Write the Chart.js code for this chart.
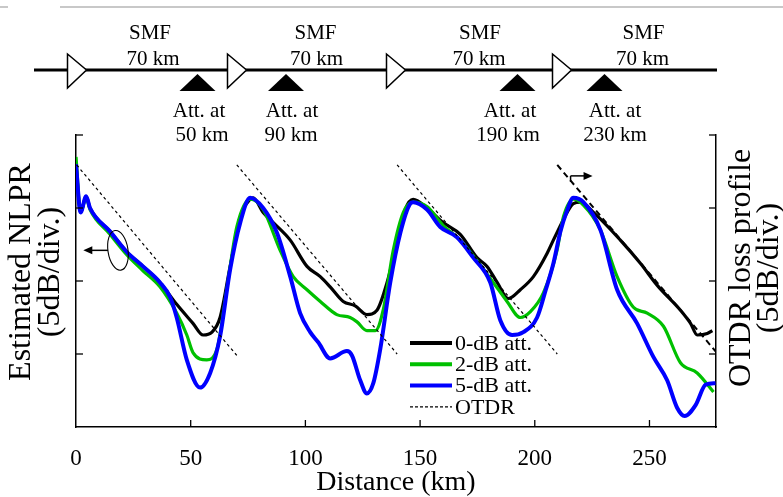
<!DOCTYPE html>
<html>
<head>
    <title>Estimated NLPR vs OTDR</title>
    <script src="https://cdn.jsdelivr.net/npm/chart.js"></script>
    <style>
        html, body { margin: 0; padding: 0; background: #fff; }
        #wrap { width: 783px; height: 497px; position: relative; }
    </style>
</head>
<body>
<div id="wrap"><canvas id="nlprChart" width="783" height="497"></canvas></div>
<script>
    // x ticks / y divisions
    const xTicks = [50, 100, 150, 200, 250];
    const yDivs = [5, 10, 15];

    // 0-dB att. (black)
    const att0Km = [0, 2.0, 4.4, 6.1, 14.8, 22.1, 29.2, 36.6, 43.9, 51.0, 55.4, 59.3, 62.8, 67.2, 71.6, 75.9, 77.2, 81.6, 86.0, 93.4, 100.7, 106.5, 110.8, 116.5, 121.7, 126.8, 131.2, 135.6, 139.9, 143.5, 147.0, 153.0, 160.1, 167.5, 174.8, 179.2, 183.6, 188.5, 193.7, 199.4, 205.4, 208.1, 211.2, 214.1, 216.8, 219.9, 225.6, 237.3, 246.1, 253.4, 263.5, 267.9, 270.8, 275.2, 277.4];
    const att0Val = [18.0, 14.7, 15.8, 15.0, 13.4, 12.0, 11.0, 9.9, 8.4, 7.1, 6.3, 6.5, 7.5, 11.0, 14.4, 15.6, 15.7, 14.7, 14.0, 12.8, 11.0, 10.3, 9.6, 8.6, 8.3, 7.7, 8.0, 9.9, 12.6, 14.9, 15.6, 15.0, 14.0, 13.2, 11.6, 11.0, 9.9, 8.8, 9.4, 10.3, 11.9, 12.8, 13.8, 14.7, 15.3, 15.4, 14.7, 12.8, 11.2, 9.7, 8.0, 7.1, 6.3, 6.4, 6.6];

    // 2-dB att. (green)
    const att2Km = [0, 2.0, 4.4, 6.1, 14.8, 22.1, 29.2, 36.6, 43.9, 48.3, 51.0, 57.0, 61.4, 65.7, 70.1, 75.9, 81.6, 89.0, 94.7, 100.7, 106.5, 113.7, 119.5, 122.5, 126.8, 130.5, 133.9, 138.3, 142.7, 147.0, 153.0, 160.1, 167.5, 174.8, 181.9, 187.9, 193.7, 198.1, 203.8, 209.7, 212.5, 216.8, 221.2, 228.6, 235.9, 243.0, 249.0, 256.1, 263.5, 270.8, 277.9];
    const att2Val = [18.5, 14.7, 15.7, 14.9, 13.2, 11.8, 10.7, 9.6, 7.8, 6.3, 5.1, 4.6, 5.3, 9.4, 13.7, 15.6, 14.9, 12.1, 10.3, 9.4, 8.6, 7.7, 7.5, 7.2, 6.6, 6.6, 8.0, 12.1, 14.7, 15.4, 15.1, 13.8, 12.8, 11.4, 9.9, 8.6, 7.5, 7.9, 9.2, 12.1, 14.4, 15.6, 15.2, 13.5, 10.3, 8.2, 7.8, 6.9, 4.4, 3.7, 2.4];

    // 5-dB att. (blue)
    const att5Km = [0, 2.0, 4.4, 6.1, 14.8, 22.1, 29.2, 36.6, 41.0, 43.9, 48.3, 54.1, 58.5, 62.8, 67.2, 71.6, 75.9, 81.6, 87.6, 93.4, 97.7, 102.1, 105.6, 110.8, 118.1, 120.3, 123.9, 126.8, 129.6, 132.6, 137.0, 141.4, 145.7, 147.0, 153.0, 158.8, 166.1, 173.2, 180.6, 185.0, 190.1, 195.0, 201.0, 204.8, 208.1, 211.2, 213.8, 216.8, 221.2, 228.6, 235.9, 244.6, 251.7, 257.7, 262.1, 265.3, 270.1, 274.5, 278.8];
    const att5Val = [18.0, 14.7, 15.8, 15.0, 13.4, 12.0, 11.0, 9.9, 8.9, 7.5, 4.6, 2.7, 3.7, 6.2, 10.8, 14.0, 15.7, 15.0, 13.3, 10.3, 7.8, 6.5, 5.8, 4.7, 5.2, 4.9, 3.2, 2.3, 3.0, 5.3, 9.9, 13.3, 15.3, 15.4, 14.9, 13.7, 13.0, 11.6, 9.9, 7.3, 6.3, 6.5, 7.5, 9.4, 11.2, 13.4, 14.7, 15.7, 15.4, 13.5, 9.4, 7.1, 4.8, 3.2, 1.3, 0.75, 1.5, 2.9, 3.0];

    // OTDR loss profile, one straight segment per span (null = break)
    const otdrKm = [0.3, 70.1, 70.1, 70.1, 140.0, 140.0, 140.0, 209.8, 209.8, 209.8, 279];
    const otdrVal = [17.95, 4.9, null, 17.95, 5.0, null, 17.95, 5.0, null, 17.95, 5.15];

    // link schematic
    const spanLabels = ['SMF', '70 km'];
    const attLabels = ['50 km', '90 km', '190 km', '230 km'];

    const pts = (xs, ys) => xs.map((v, i) => ({x: v, y: ys[i]}));
    const serif = '"Liberation Serif", "Times New Roman", serif';

    const decor = {
        id: 'decor',
        afterDraw(chart) {
            const {ctx, chartArea: a, scales: {x, y}} = chart;
            const line = (x1, y1, x2, y2) => { ctx.beginPath(); ctx.moveTo(x1, y1); ctx.lineTo(x2, y2); ctx.stroke(); };
            ctx.save();

            // page rule at the very top
            ctx.strokeStyle = '#c8c8c8'; ctx.lineWidth = 2;
            line(0, 7, 8, 7); line(60, 7, 783, 7);

            // inward ticks
            ctx.strokeStyle = '#000'; ctx.lineWidth = 1.3;
            xTicks.forEach(v => { const px = x.getPixelForValue(v); line(px, a.bottom, px, a.bottom - 7); });
            yDivs.concat([20]).forEach(v => {
                const py = y.getPixelForValue(v);
                line(a.left, py, a.left + 7, py);
                line(a.right, py, a.right - 7, py);
            });

            // schematic
            ctx.lineWidth = 3;
            line(34, 70, 717, 70);
            ctx.lineWidth = 1.5;
            [67.5, 227.5, 386.5, 552.5].forEach(l => {
                ctx.beginPath(); ctx.moveTo(l, 54); ctx.lineTo(l + 19, 70); ctx.lineTo(l, 88); ctx.closePath();
                ctx.fillStyle = '#fff'; ctx.fill(); ctx.stroke();
            });
            ctx.fillStyle = '#000';
            [197.5, 286, 517.5, 604.5].forEach(c => {
                ctx.beginPath(); ctx.moveTo(c, 74); ctx.lineTo(c + 18, 91); ctx.lineTo(c - 18, 91); ctx.closePath(); ctx.fill();
            });
            ctx.font = '21px ' + serif; ctx.textAlign = 'center'; ctx.textBaseline = 'middle';
            [[150, 153], [315.5, 316.5], [480, 479], [643.5, 642.5]].forEach(([c1, c2]) => {
                ctx.fillText(spanLabels[0], c1, 33);
                ctx.fillText(spanLabels[1], c2, 59);
            });
            [[199, 202], [292, 291], [510, 508], [615, 615]].forEach(([c1, c2], i) => {
                ctx.fillText('Att. at', c1, 111);
                ctx.fillText(attLabels[i], c2, 135);
            });

            // ellipse + left arrow (NLPR curves -> left axis)
            ctx.lineWidth = 1.1;
            const ex = x.getPixelForValue(18.3), ey = y.getPixelForValue(12.1);
            ctx.beginPath(); ctx.ellipse(ex, ey, 10, 20, -0.15, 0, Math.PI * 2); ctx.stroke();
            const tip = x.getPixelForValue(3.2);
            ctx.lineWidth = 1.5;
            line(ex - 10, ey, tip + 5, ey);
            ctx.beginPath(); ctx.moveTo(tip, ey); ctx.lineTo(tip + 9, ey - 4); ctx.lineTo(tip + 9, ey + 4); ctx.closePath(); ctx.fill();

            // right arrow (OTDR -> right axis)
            const ax = x.getPixelForValue(215.6), ay = y.getPixelForValue(17.2);
            const atip = x.getPixelForValue(225.2);
            line(ax, ay + 6, ax, ay);
            line(ax, ay, atip - 5, ay);
            ctx.beginPath(); ctx.moveTo(atip, ay); ctx.lineTo(atip - 9, ay - 4); ctx.lineTo(atip - 9, ay + 4); ctx.closePath(); ctx.fill();

            // legend
            ctx.font = '22px ' + serif; ctx.textAlign = 'left';
            [0, 1, 2, 3].forEach((di, r) => {
                const ds = chart.data.datasets[di];
                const ry = 343 + r * 21.3;
                ctx.strokeStyle = ds.borderColor;
                ctx.lineWidth = di === 3 ? 1.3 : 4;
                ctx.setLineDash(di === 3 ? [3, 2] : []);
                line(410, ry, 452, ry);
                ctx.setLineDash([]);
                ctx.fillStyle = '#000';
                ctx.fillText(ds.label, 455, ry + 1);
            });

            // rotated axis titles
            ctx.font = '32px ' + serif; ctx.textAlign = 'center';
            const vtext = (t, cx, cy) => { ctx.save(); ctx.translate(cx, cy); ctx.rotate(-Math.PI / 2); ctx.fillText(t, 0, 0); ctx.restore(); };
            vtext('Estimated NLPR', 22, 272);
            vtext('(5dB/div.)', 51, 272);
            vtext('OTDR loss profile', 742, 268);
            vtext('(5dB/div.)', 770, 268);
            ctx.restore();
        }
    };

    new Chart(document.getElementById('nlprChart'), {
        type: 'line',
        data: {
            datasets: [{
                label: '0-dB att.',
                data: pts(att0Km, att0Val),
                borderColor: '#000000',
                borderWidth: 3.2,
                order: 3
            }, {
                label: '2-dB att.',
                data: pts(att2Km, att2Val),
                borderColor: '#00c000',
                borderWidth: 3.2,
                order: 2
            }, {
                label: '5-dB att.',
                data: pts(att5Km, att5Val),
                borderColor: '#0000ff',
                borderWidth: 4,
                order: 1
            }, {
                label: 'OTDR',
                data: pts(otdrKm, otdrVal),
                yAxisID: 'y2',
                borderColor: '#000000',
                borderWidth: 1.2,
                borderDash: [3, 3],
                tension: 0,
                cubicInterpolationMode: 'default',
                spanGaps: false,
                order: 0,
                segment: {
                    borderWidth: c => c.p0.parsed.x > 209 ? 2 : 1.2,
                    borderDash: c => c.p0.parsed.x > 209 ? [6, 4] : [3, 3]
                }
            }]
        },
        options: {
            responsive: false,
            animation: false,
            devicePixelRatio: 1,
            layout: { padding: { left: 76, right: 67, top: 135, bottom: 0 } },
            elements: {
                point: { radius: 0 },
                line: { cubicInterpolationMode: 'monotone', fill: false }
            },
            plugins: { legend: { display: false }, tooltip: { enabled: false } },
            scales: {
                x: {
                    type: 'linear', min: 0, max: 279,
                    grid: { display: false, drawTicks: false },
                    border: { color: '#000', width: 1.5 },
                    ticks: { stepSize: 50, includeBounds: false, padding: 18, color: '#000', font: { family: serif, size: 23 } },
                    title: { display: true, text: 'Distance (km)', color: '#000', padding: 0, font: { family: serif, size: 28, lineHeight: 1 } },
                    afterFit: s => { s.height = 70; }
                },
                y: {
                    min: 0, max: 20,
                    grid: { display: false, drawTicks: false },
                    border: { color: '#000', width: 1.5 },
                    ticks: { display: false },
                    afterFit: s => { s.width = 0; }
                },
                y2: {
                    position: 'right', min: 0, max: 20,
                    grid: { display: false, drawTicks: false },
                    border: { color: '#000', width: 1.5 },
                    ticks: { display: false },
                    afterFit: s => { s.width = 0; }
                }
            }
        },
        plugins: [decor]
    });
</script>
</body>
</html>
